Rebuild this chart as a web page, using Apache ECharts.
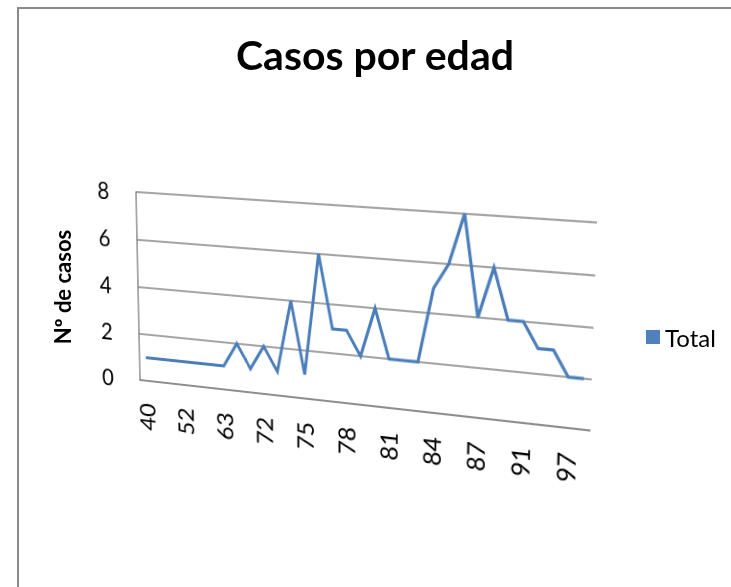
<!DOCTYPE html>
<html>
<head>
<meta charset="utf-8">
<script src="https://cdn.jsdelivr.net/npm/echarts@6/dist/echarts.min.js"></script>
<style>
  html, body { margin: 0; padding: 0; background: #fff; }
  #wrap { position: relative; width: 731px; height: 587px; overflow: hidden; background: #fff; }
  #frame { position: absolute; left: 17px; top: 7px; width: 800px; height: 700px;
           border-left: 2px solid #8a8a8a; border-top: 2px solid #8a8a8a; }
  #plot { position: absolute; left: 0; top: 0; width: 731px; height: 587px; transform-origin: 0 0; }
  #over { position: absolute; left: 0; top: 0; width: 731px; height: 587px; }
</style>
</head>
<body>
<div id="wrap">
  <div id="frame"></div>
  <div id="plot"></div>
  <div id="over"></div>
</div>
<script>
// ---- data ----
const titleText = 'Casos por edad';
const yAxisTitle = 'Nº de casos';
const seriesName = 'Total';
const ages = ['40','44','48','52','55','59','63','65','69','72','73','74','75','76','77','78',
              '79','80','81','82','83','84','85','86','87','88','90','91','93','95','97','98'];
const cases = [1,1,1,1,1,1,1,2,1,2,1,4,1,6,3,3,2,4,2,2,2,5,6,8,4,6,4,4,3,3,2,2];
const yTicks = [0, 2, 4, 6, 8];

const FONT = 'Lato, "Open Sans", sans-serif';
const LINE_COLOR = '#4A7EBB';
const GRID_COLOR = '#878787';

// ---- plot (back wall) chart, drawn flat then projected in perspective ----
const G = { left: 137, top: 192, width: 459, height: 188 };
const plot = echarts.init(document.getElementById('plot'), null, { renderer: 'svg' });
plot.setOption({
  animation: false,
  grid: { left: G.left, top: G.top, width: G.width, height: G.height, containLabel: false },
  xAxis: {
    type: 'category',
    data: ages,
    boundaryGap: true,
    offset: 4,
    axisLine: { show: true, lineStyle: { color: GRID_COLOR, width: 1.5 } },
    axisTick: { show: false },
    axisLabel: { interval: 2, rotate: 90, fontSize: 24, color: '#000', fontFamily: FONT, margin: 19 }
  },
  yAxis: {
    type: 'value',
    min: yTicks[0],
    max: yTicks[yTicks.length - 1],
    interval: 2,
    axisLine: { show: true, lineStyle: { color: GRID_COLOR, width: 1.5 } },
    axisTick: { show: false },
    splitLine: { show: true, lineStyle: { color: GRID_COLOR, width: 1.5 } },
    axisLabel: { fontSize: 23, color: '#000', fontFamily: FONT, margin: 30 }
  },
  series: [{
    name: seriesName,
    type: 'line',
    data: cases,
    showSymbol: false,
    symbol: 'none',
    lineStyle: { color: LINE_COLOR, width: 3, join: 'miter' },
    itemStyle: { color: LINE_COLOR }
  }]
});

// perspective mapping of the flat grid rectangle onto the slanted wall
function solve(A, b) {
  const n = b.length;
  for (let i = 0; i < n; i++) {
    let p = i;
    for (let r = i + 1; r < n; r++) if (Math.abs(A[r][i]) > Math.abs(A[p][i])) p = r;
    [A[i], A[p]] = [A[p], A[i]]; [b[i], b[p]] = [b[p], b[i]];
    for (let r = i + 1; r < n; r++) {
      const f = A[r][i] / A[i][i];
      for (let c = i; c < n; c++) A[r][c] -= f * A[i][c];
      b[r] -= f * b[i];
    }
  }
  const x = new Array(n).fill(0);
  for (let i = n - 1; i >= 0; i--) {
    let s = b[i];
    for (let c = i + 1; c < n; c++) s -= A[i][c] * x[c];
    x[i] = s / A[i][i];
  }
  return x;
}
function homography(src, dst) {
  const A = [], b = [];
  for (let i = 0; i < 4; i++) {
    const [x, y] = src[i], [X, Y] = dst[i];
    A.push([x, y, 1, 0, 0, 0, -x * X, -y * X]); b.push(X);
    A.push([0, 0, 0, x, y, 1, -x * Y, -y * Y]); b.push(Y);
  }
  return solve(A, b);
}
const src = [[G.left, G.top], [G.left + G.width, G.top], [G.left + G.width, G.top + G.height], [G.left, G.top + G.height]];
const dst = [[136, 192], [597, 222.5], [590, 430.5], [140, 380]];
const h = homography(src, dst);
document.getElementById('plot').style.transform =
  'matrix3d(' + [h[0], h[3], 0, h[6], h[1], h[4], 0, h[7], 0, 0, 1, 0, h[2], h[5], 0, 1].join(',') + ')';

// ---- overlay: title, legend, axis title ----
const over = echarts.init(document.getElementById('over'), null, { renderer: 'svg' });
over.setOption({
  animation: false,
  title: {
    text: titleText,
    left: 231,
    top: 29,
    textStyle: { fontSize: 41, fontWeight: 'bold', color: '#000', fontFamily: FONT }
  },
  legend: {
    data: [seriesName],
    left: 641,
    top: 320,
    icon: 'rect',
    itemWidth: 14,
    itemHeight: 14,
    itemGap: 6,
    textStyle: { fontSize: 24, color: '#000', fontFamily: FONT }
  },
  grid: { left: 0, top: 0, width: 1, height: 1 },
  xAxis: { type: 'category', show: false, data: [] },
  yAxis: { type: 'value', show: false },
  series: [{ name: seriesName, type: 'line', data: [], itemStyle: { color: '#4F81BD' }, lineStyle: { color: LINE_COLOR } }],
  graphic: [{
    type: 'text',
    x: 62, y: 287,
    rotation: Math.PI / 2,
    style: {
      text: yAxisTitle,
      fontSize: 22, fontWeight: 'bold', fontFamily: FONT, fill: '#000',
      align: 'center', verticalAlign: 'middle'
    }
  }]
});
</script>
</body>
</html>
